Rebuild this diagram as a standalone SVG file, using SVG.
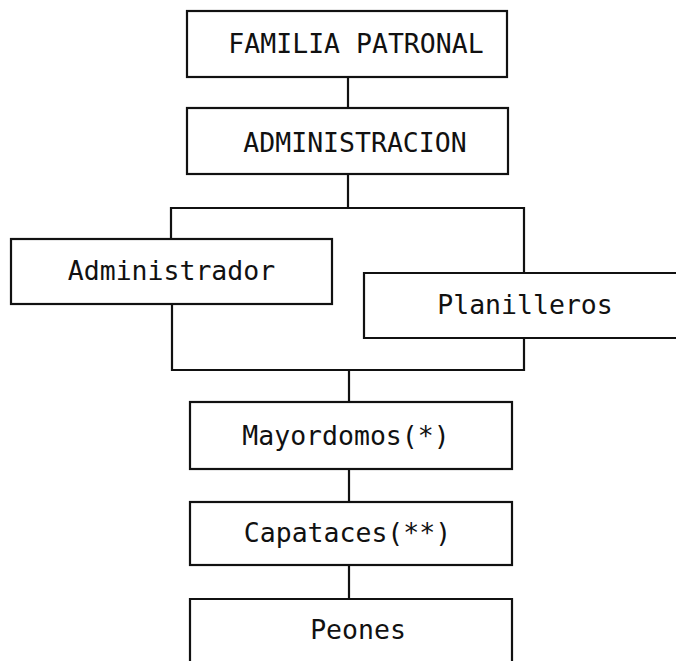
<svg xmlns="http://www.w3.org/2000/svg" width="676" height="661" viewBox="0 0 676 661">
<style>
.box{fill:#fff;stroke:#111;stroke-width:2.2}
.ln{fill:none;stroke:#111;stroke-width:2.2}
text{font-family:"DejaVu Sans Mono","Liberation Mono",monospace;font-size:26.5px;fill:#111;text-anchor:middle}
</style>
<rect width="676" height="661" fill="#fff"/>
<g id="connectors">
<path class="ln" d="M348,77 V108"/>
<path class="ln" d="M348,174 V208"/>
<path class="ln" d="M171,239 V208 H524 V273"/>
<path class="ln" d="M172,304 V370 H524 V338"/>
<path class="ln" d="M349,370 V402"/>
<path class="ln" d="M349,469 V502"/>
<path class="ln" d="M349,565 V599"/>
</g>
<g id="familia"><rect class="box" x="187" y="11" width="320" height="66"/><text x="356" y="53">FAMILIA PATRONAL</text></g>
<g id="administracion"><rect class="box" x="187" y="108" width="321" height="66"/><text x="355" y="152">ADMINISTRACION</text></g>
<g id="administrador"><rect class="box" x="11" y="239" width="321" height="65"/><text x="171.5" y="280">Administrador</text></g>
<g id="planilleros"><path class="box" d="M690,273 H364 V338 H690"/><text x="525" y="314">Planilleros</text></g>
<g id="mayordomos"><rect class="box" x="190" y="402" width="322" height="67"/><text x="346" y="445">Mayordomos(*)</text></g>
<g id="capataces"><rect class="box" x="190" y="502" width="322" height="63"/><text x="347.5" y="542">Capataces(**)</text></g>
<g id="peones"><path class="box" d="M190,670 V599 H512 V670"/><text x="358" y="639">Peones</text></g>
</svg>
